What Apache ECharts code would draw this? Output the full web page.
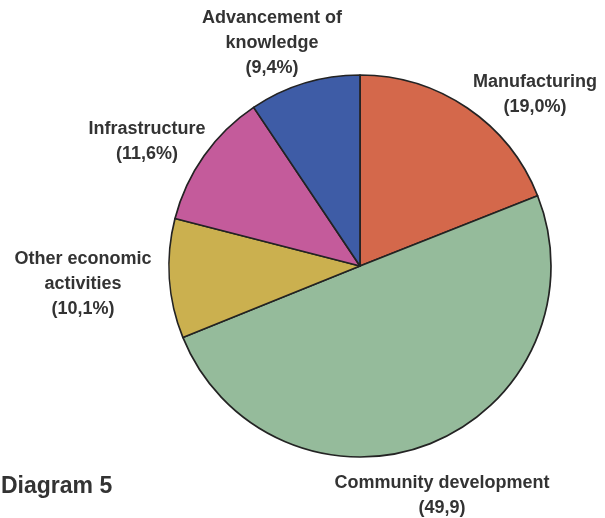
<!DOCTYPE html>
<html>
<head>
<meta charset="utf-8">
<style>
  html, body { margin: 0; padding: 0; background: #ffffff; }
  #chart { width: 605px; height: 518px; }
</style>
<script src="https://cdn.jsdelivr.net/npm/echarts@6/dist/echarts.min.js"></script>
</head>
<body>
<div id="chart"></div>
<script>
// Sectors, in clockwise order from twelve o'clock
const categories = [
  'Manufacturing',
  'Community development',
  'Other economic\nactivities',
  'Infrastructure',
  'Advancement of\nknowledge'
];
// Share of the total, in percent
const shares = [19.0, 49.9, 10.1, 11.6, 9.4];
// Unit printed after each value in its label
const units = ['%', '', '%', '%', '%'];
const colors = ['#d4684b', '#95bb9b', '#cbb04f', '#c45b9b', '#3e5ca6'];

// Where each label block is centred (pixels)
const labelSpots = [
  [535, 95],
  [442, 496],
  [83, 284],
  [147, 142],
  [272, 43]
];

const fmt = v => v.toFixed(1).replace('.', ',');

const chart = echarts.init(document.getElementById('chart'), null, { renderer: 'canvas' });

chart.setOption({
  backgroundColor: '#ffffff',
  animation: false,
  title: {
    text: 'Diagram 5',
    left: -4,
    top: 470,
    textStyle: {
      fontFamily: 'Liberation Sans, Arial, sans-serif',
      fontSize: 23,
      fontWeight: 'bold',
      color: '#333333'
    }
  },
  series: [{
    type: 'pie',
    center: [360, 266],
    radius: [0, 191],
    startAngle: 90,
    clockwise: true,
    avoidLabelOverlap: false,
    itemStyle: {
      borderColor: '#232323',
      borderWidth: 1.7
    },
    label: {
      show: true,
      position: 'outside',
      formatter: p => p.name + '\n(' + fmt(p.value) + units[p.dataIndex] + ')',
      fontFamily: 'Liberation Sans, Arial, sans-serif',
      fontSize: 18,
      fontWeight: 'bold',
      lineHeight: 25,
      color: '#333333',
      align: 'center'
    },
    labelLine: { show: false },
    labelLayout: params => ({
      x: labelSpots[params.dataIndex][0],
      y: labelSpots[params.dataIndex][1],
      align: 'center',
      verticalAlign: 'middle'
    }),
    data: categories.map((name, i) => ({
      name: name,
      value: shares[i],
      itemStyle: { color: colors[i] }
    }))
  }]
});
</script>
</body>
</html>
